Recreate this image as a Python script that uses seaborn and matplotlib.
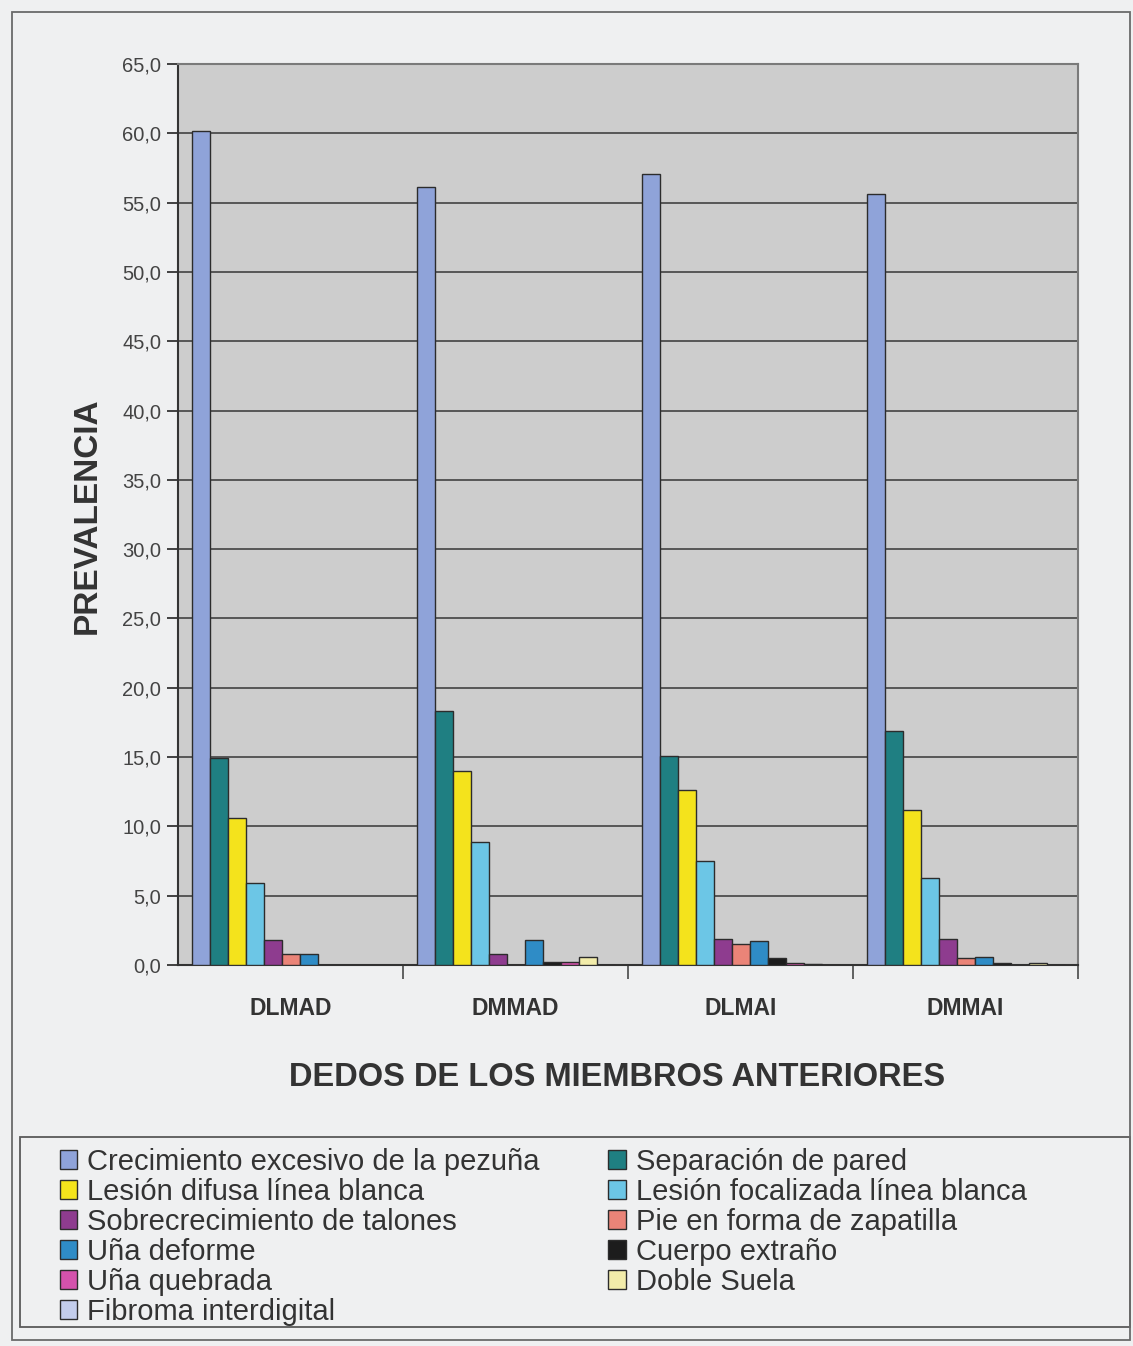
import numpy as np
import pandas as pd
import seaborn as sns
import matplotlib.pyplot as plt
from matplotlib.patches import Rectangle, Patch
from matplotlib.ticker import MultipleLocator, FixedLocator, FuncFormatter

sns.set_theme(style="white")
plt.rcParams['font.family'] = ['Liberation Sans', 'DejaVu Sans']

# Digits of the fore limbs
dedos = ["DLMAD", "DMMAD", "DLMAI", "DMMAI"]

lesiones = [
    "Crecimiento excesivo de la pezuña",
    "Separación de pared",
    "Lesión difusa línea blanca",
    "Lesión focalizada línea blanca",
    "Sobrecrecimiento de talones",
    "Pie en forma de zapatilla",
    "Uña deforme",
    "Cuerpo extraño",
    "Uña quebrada",
    "Doble Suela",
    "Fibroma interdigital",
]

# Prevalence (%) per lesion, one value per digit group
crecimiento = [60.2, 56.1, 57.1, 55.6]
separacion = [14.9, 18.3, 15.1, 16.9]
difusa = [10.6, 14.0, 12.6, 11.2]
focalizada = [5.9, 8.9, 7.5, 6.3]
talones = [1.8, 0.8, 1.9, 1.9]
zapatilla = [0.8, 0.0, 1.5, 0.5]
deforme = [0.8, 1.8, 1.7, 0.6]
extrano = [0.0, 0.2, 0.5, 0.15]
quebrada = [0.0, 0.2, 0.15, 0.0]
doble_suela = [0.0, 0.6, 0.1, 0.15]
fibroma = [0.0, 0.0, 0.0, 0.0]

series = [crecimiento, separacion, difusa, focalizada, talones, zapatilla,
          deforme, extrano, quebrada, doble_suela, fibroma]

colores = ["#8fa3d9", "#1f7f82", "#f4e31c", "#6cc6e6", "#8e3c8f", "#ea8478",
           "#2f8cc6", "#1c1c1c", "#d452ac", "#f2ecaa", "#c3cdec"]

rows = []
for les, vals in zip(lesiones, series):
    for d, v in zip(dedos, vals):
        rows.append({"dedo": d, "lesion": les, "prev": v})
df = pd.DataFrame(rows)

W, H = 1133, 1346
bg = "#eff0f1"
fig = plt.figure(figsize=(W / 100, H / 100), dpi=100, facecolor=bg)

x0, x1, y0, y1 = 178, 1078, 64, 965
ax = fig.add_axes([x0 / W, 1 - y1 / H, (x1 - x0) / W, (y1 - y0) / H])
ax.set_facecolor("#cdcdcd")

sns.barplot(data=df, x="dedo", y="prev", hue="lesion", order=dedos,
            hue_order=lesiones, palette=colores, saturation=1, width=0.88,
            gap=0, edgecolor="#2c2c2c", linewidth=1.0, errorbar=None,
            legend=False, ax=ax, zorder=3)

ax.set_xlim(-0.5, 3.5)
ax.set_ylim(0, 65)
ax.yaxis.set_major_locator(MultipleLocator(5))
ax.yaxis.set_major_formatter(FuncFormatter(lambda v, p: f"{v:.1f}".replace(".", ",")))
ax.yaxis.grid(True, color="#4d4d4d", linewidth=1.3, zorder=0)
ax.set_axisbelow(True)

ax.tick_params(axis="y", which="major", direction="out", length=8, width=1.3,
               color="#333333", labelsize=14.5, labelcolor="#444444", pad=4, left=True)
ax.tick_params(axis="x", which="major", length=0, pad=23, labelsize=16.5,
               labelcolor="#333333")
for lbl in ax.get_xticklabels():
    lbl.set_fontweight("bold")
ax.xaxis.set_minor_locator(FixedLocator([0.5, 1.5, 2.5, 3.5]))
ax.tick_params(axis="x", which="minor", direction="out", length=10, width=1.3,
               color="#555555", bottom=True)

ax.set_xlabel("")
ax.set_ylabel("")
for side in ("left", "bottom"):
    ax.spines[side].set_color("#333333")
    ax.spines[side].set_linewidth(1.5)
for side in ("top", "right"):
    ax.spines[side].set_color("#7a7a7a")
    ax.spines[side].set_linewidth(1.5)

fig.text(87 / W, 1 - 516 / H, "PREVALENCIA", rotation=90, ha="center",
         va="center", fontsize=24, fontweight="bold", color="#333333")
fig.text(617 / W, 1 - 1077 / H, "DEDOS DE LOS MIEMBROS ANTERIORES",
         ha="center", va="center", fontsize=23.5, fontweight="bold", color="#333333")

# Legend: two columns read row by row
handles = [Patch(facecolor=c, edgecolor="#2c2c2c", linewidth=1.0) for c in colores]
orden = [0, 2, 4, 6, 8, 10, 1, 3, 5, 7, 9]
leg = fig.legend([handles[i] for i in orden], [lesiones[i] for i in orden],
                 ncol=2, loc="upper left",
                 bbox_to_anchor=(45 / W, 1 - 1133 / H),
                 frameon=False, fontsize=21, labelspacing=0.07,
                 handlelength=0.6, handleheight=0.6, handletextpad=0.35,
                 columnspacing=2.35, borderpad=0.0)
for t in leg.get_texts():
    t.set_color("#333333")

# Legend box and outer frame
fig.add_artist(Rectangle((20 / W, 1 - 1327 / H), (1130 - 20) / W, (1327 - 1137) / H,
                         transform=fig.transFigure, fill=False,
                         edgecolor="#5a5a5a", linewidth=1.3))
fig.add_artist(Rectangle((12 / W, 1 - 1340 / H), (1130 - 12) / W, (1340 - 12) / H,
                         transform=fig.transFigure, fill=False,
                         edgecolor="#6a6a6a", linewidth=1.3))

fig.savefig("out.png", dpi=100, facecolor=bg)
